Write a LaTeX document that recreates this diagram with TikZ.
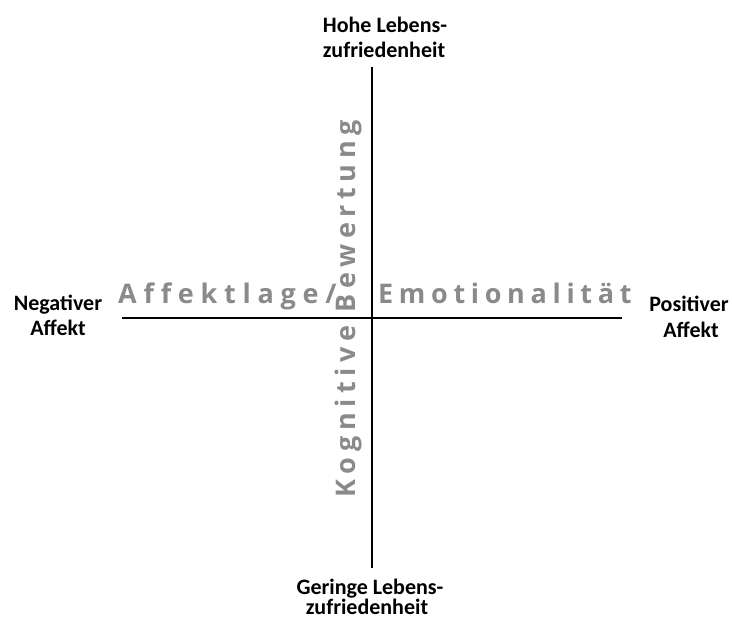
\documentclass[tikz,border=0pt]{standalone}
\usepackage{fontspec}
\setmainfont{Carlito}
\newfontfamily\grayfont[LetterSpace=21,Ligatures={NoCommon}]{Open Sans}
\newfontfamily\grayfontwide[LetterSpace=25,Ligatures={NoCommon}]{Open Sans}
\definecolor{axisgray}{RGB}{138,138,138}
\tikzset{
  axislabel/.style={font=\bfseries\fontsize{22}{26}\selectfont, anchor=base, inner sep=0pt},
  dimtext/.style={font=\grayfont\bfseries\fontsize{27}{32}\selectfont, text=axisgray, inner sep=0pt},
  axisline/.style={line width=2.4pt, black}
}
\begin{document}
\begin{tikzpicture}[x=1pt,y=-1pt]
\useasboundingbox (0,0) rectangle (732,621);
\coordinate (vtop) at (372,67);
\coordinate (vbot) at (372,568);
\coordinate (hleft) at (122,318);
\coordinate (hright) at (622,318);
\draw[axisline] (vtop) -- (vbot);
\draw[axisline] (hleft) -- (hright);
\node[dimtext, font=\grayfontwide\bfseries\fontsize{27}{32}\selectfont, anchor=base west] (affekt) at (118,303) {Affektlage/};
\node[dimtext, anchor=base west] (emo) at (378,303) {Emotionalität};
\node[dimtext, anchor=base west, rotate=90] (kog) at (355,498) {Kognitive Bewertung};
\node[axislabel] (top1) at (385,32) {Hohe Lebens-};
\node[axislabel] (top2) at (384,57) {zufriedenheit};
\node[axislabel] (bot1) at (370,594) {Geringe Lebens-};
\node[axislabel] (bot2) at (367,614) {zufriedenheit};
\node[axislabel] (left1) at (58,310) {Negativer};
\node[axislabel] (left2) at (58,335) {Affekt};
\node[axislabel] (right1) at (689,311) {Positiver};
\node[axislabel] (right2) at (691,337) {Affekt};
\end{tikzpicture}
\end{document}
